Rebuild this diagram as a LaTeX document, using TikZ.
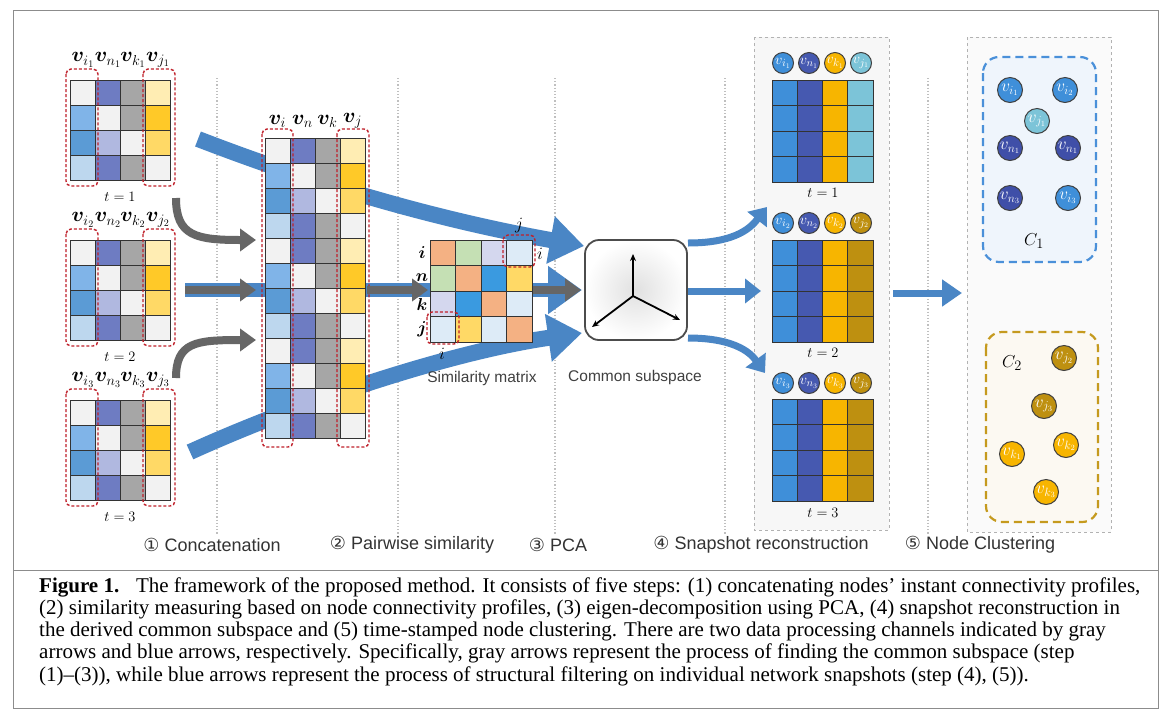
\documentclass[tikz,border=0pt]{standalone}
\usepackage{fontspec}
\usepackage{amsmath}
\usepackage{bm}
\usetikzlibrary{arrows.meta}
\newfontfamily\lsans{Liberation Sans}
\newfontfamily\djv{DejaVu Sans}
\newfontfamily\capfont{Liberation Serif}
% profile cells
\definecolor{cLG}{HTML}{F2F2F2}
\definecolor{cPB}{HTML}{6E7CC2}
\definecolor{cGr}{HTML}{A6A6A6}
\definecolor{cLY}{HTML}{FFEDB3}
\definecolor{cLB}{HTML}{80B4E8}
\definecolor{cGold}{HTML}{FFC928}
\definecolor{cMB}{HTML}{5B9BD5}
\definecolor{cLav}{HTML}{B0B8E0}
\definecolor{cYel}{HTML}{FFD966}
\definecolor{cPale}{HTML}{BDD7EE}
% similarity
\definecolor{cOr}{HTML}{F4B183}
\definecolor{cGn}{HTML}{C5E0B4}
\definecolor{cLv}{HTML}{D4D7EE}
\definecolor{cPl}{HTML}{DDEBF7}
\definecolor{cBl}{HTML}{3A9AE0}
% snapshots
\definecolor{sBlue}{HTML}{3F8FD9}
\definecolor{sInd}{HTML}{4659B0}
\definecolor{sGold}{HTML}{F7B500}
\definecolor{sTeal}{HTML}{7CC4D8}
\definecolor{sDark}{HTML}{BE9010}
\definecolor{nInd}{HTML}{3F4FA8}
% arrows
\definecolor{garr}{HTML}{666666}
\definecolor{barr}{HTML}{4A86C5}
\definecolor{redd}{HTML}{C0202A}
\definecolor{cluB}{HTML}{4A90D9}
\definecolor{cluY}{HTML}{C59A1E}

\tikzset{
 cell/.style={draw=black!80, line width=0.9pt},
 redbox/.style={draw=redd, dash pattern=on 3pt off 2pt, line width=1.4pt, rounded corners=5pt},
 sepline/.style={draw=black!25, dotted, line width=1.2pt},
 grayarr/.style={draw=garr, line width=8pt, -{Triangle[length=16pt,width=22pt]}},
 bluebig/.style={draw=barr, line width=16pt, -{Triangle[length=34pt,width=46pt]}},
 bluesmall/.style={draw=barr, line width=7pt, -{Triangle[length=16pt,width=24pt]}},
 vlab/.style={font=\fontsize{20}{20}\selectfont, inner sep=0pt},
 tlab/.style={font=\fontsize{15}{15}\selectfont, inner sep=0pt},
 ijlab/.style={font=\fontsize{16}{16}\selectfont, inner sep=0pt},
 snode/.style={circle, draw=black!75, line width=1pt, minimum size=21pt, inner sep=0pt, text=white, font=\fontsize{15}{15}\selectfont},
 cnode/.style={snode, minimum size=25pt, font=\fontsize{17}{17}\selectfont},
 steplab/.style={font=\lsans\fontsize{18}{18}\selectfont, text=black!80, inner sep=0pt},
 sublab/.style={font=\lsans\fontsize{15.5}{15.5}\selectfont, text=black!75, inner sep=0pt},
 caplab/.style={font=\capfont\fontsize{21}{22}\selectfont, inner sep=0pt, anchor=base west},
}

\newcommand\profmat[2]{%
 \foreach \rr/\colA/\colB/\colC/\colD in {0/cLG/cPB/cGr/cLY,1/cLB/cLG/cGr/cGold,2/cMB/cLav/cLG/cYel,3/cPale/cPB/cGr/cLG}{%
  \path[cell,fill=\colA] ({#1},{#2+25*\rr}) rectangle ++(25,25);
  \path[cell,fill=\colB] ({#1+25},{#2+25*\rr}) rectangle ++(25,25);
  \path[cell,fill=\colC] ({#1+50},{#2+25*\rr}) rectangle ++(25,25);
  \path[cell,fill=\colD] ({#1+75},{#2+25*\rr}) rectangle ++(25,25);
 }}
\newcommand\snapmat[3]{%
 \foreach \rr in {0,...,3}{%
  \foreach \cc/\cl in {0/sBlue,1/sInd,2/sGold,3/#3}{%
   \path[cell,fill=\cl] ({#1+25.3*\cc},{#2+25.5*\rr}) rectangle ++(25.3,25.5);}}}

\begin{document}
\begin{tikzpicture}[x=1pt,y=-1pt]
\useasboundingbox (0,0) rectangle (1168,716);
\fill[white] (0,0) rectangle (1168,716);
% frame
\draw[black!45, line width=0.8pt] (13,10) rectangle (1158,708);
\draw[black!45, line width=0.8pt] (13,570) -- (1158,570);

% separators
\foreach \sx/\nm in {217/s1,398/s2,555/s3,725/s4,928/s5}{
  \coordinate (\nm a) at (\sx,78); \coordinate (\nm b) at (\sx,535);
  \draw[sepline] (\nm a) -- (\nm b);}

% panels
\path[draw=black!30, dashed, fill=black!3, line width=0.7pt] (754,37) rectangle (889,530);
\path[draw=black!30, dashed, fill=black!2, line width=0.7pt] (967,37) rectangle (1111,532);

% blue bands (behind matrices)
\coordinate (bt0) at (198,139);
\coordinate (bt1) at (584,246);
\coordinate (bm0) at (185,290);
\coordinate (bm1) at (582,290);
\coordinate (bb0) at (190,452);
\coordinate (bb1) at (582,333);
\draw[bluebig] (bt0) .. controls (330,190) and (450,222) .. (bt1);
\draw[bluebig, line width=14pt] (bm0) -- (bm1);
\draw[bluebig] (bb0) .. controls (300,402) and (450,352) .. (bb1);

% left profile matrices
\foreach \yy/\tt in {80/1,240/2,400/3}{
  \profmat{70}{\yy}
  \draw[redbox] (66,\yy-11) rectangle (98,\yy+106);
  \draw[redbox] (143,\yy-11) rectangle (175,\yy+106);
  \node[vlab] (li\tt) at (83,\yy-20) {$\bm{v}_{i_{\tt}}$};
  \node[vlab] (ln\tt) at (108,\yy-20) {$\bm{v}_{n_{\tt}}$};
  \node[vlab] (lk\tt) at (133,\yy-20) {$\bm{v}_{k_{\tt}}$};
  \node[vlab] (lj\tt) at (158,\yy-20) {$\bm{v}_{j_{\tt}}$};
  \node[tlab] (lt\tt) at (120,\yy+117) {$t=\tt$};
}

% concatenated matrix
\profmat{265}{138}
\profmat{265}{238}
\profmat{265}{338}
\draw[redbox] (262,129) rectangle (293,447);
\draw[redbox] (337,129) rectangle (369,447);
\node[vlab] (mi) at (277.5,121) {$\bm{v}_{i}$};
\node[vlab] (mn) at (302.5,121) {$\bm{v}_{n}$};
\node[vlab] (mk) at (327.5,121) {$\bm{v}_{k}$};
\node[vlab] (mj) at (352.5,121) {$\bm{v}_{j}$};

% similarity matrix
\foreach \rr/\colA/\colB/\colC/\colD in {0/cOr/cGn/cLv/cPl,1/cGn/cOr/cBl/cYel,2/cLv/cBl/cOr/cPl,3/cPl/cYel/cPl/cOr}{
  \path[cell,fill=\colA] (430,{240+25.5*\rr}) rectangle ++(25.5,25.5);
  \path[cell,fill=\colB] (455.5,{240+25.5*\rr}) rectangle ++(25.5,25.5);
  \path[cell,fill=\colC] (481,{240+25.5*\rr}) rectangle ++(25.5,25.5);
  \path[cell,fill=\colD] (506.5,{240+25.5*\rr}) rectangle ++(25.5,25.5);
}
\draw[redbox] (503,235) rectangle (535,267);
\draw[redbox] (427,312) rectangle (459,344);
\node[ijlab] (ri) at (422,253) {$\bm{i}$};
\node[ijlab] (rn) at (422,278) {$\bm{n}$};
\node[ijlab] (rk) at (422,304) {$\bm{k}$};
\node[ijlab] (rj) at (422,329) {$\bm{j}$};
\node[ijlab] (tj) at (519,226) {$j$};
\node[ijlab] (ti) at (540,254) {$i$};
\node[ijlab] (bi) at (442,354) {$i$};
\node[sublab] (simlab) at (482,378) {Similarity matrix};

% common subspace
\node[draw=black!70, line width=1.8pt, rounded corners=14pt, minimum width=102pt, minimum height=100pt, inner sep=0pt,
  inner color=black!12, outer color=white] (cs) at (636,290) {};
\coordinate (ax0) at (633,296);
\coordinate (axu) at (633,254);
\coordinate (axl) at (592,327);
\coordinate (axr) at (680,320);
\draw[line width=1.8pt, -{Stealth[length=7pt,width=6pt]}] (ax0) -- (axu);
\draw[line width=1.8pt, -{Stealth[length=7pt,width=6pt]}] (ax0) -- (axl);
\draw[line width=1.8pt, -{Stealth[length=7pt,width=6pt]}] (ax0) -- (axr);
\node[sublab] (cslab) at (635,377) {Common subspace};

% gray arrows
\coordinate (g1a) at (176,198); \coordinate (g1b) at (256,240);
\coordinate (g2a) at (185,290); \coordinate (g2b) at (256,290);
\coordinate (g3a) at (176,378); \coordinate (g3b) at (256,340);
\coordinate (g4a) at (367,290); \coordinate (g4b) at (428,290);
\coordinate (g5a) at (533,290); \coordinate (g5b) at (581,290);
\draw[grayarr] (g1a) .. controls (176,236) and (196,240) .. (g1b);
\draw[grayarr] (g2a) -- (g2b);
\draw[grayarr] (g3a) .. controls (176,342) and (196,340) .. (g3b);
\draw[grayarr] (g4a) -- (g4b);
\draw[grayarr] (g5a) -- (g5b);

% blue arrows to snapshots
\coordinate (r0t) at (688,243); \coordinate (r1t) at (767,207);
\coordinate (r0m) at (688,291); \coordinate (r1m) at (761,291);
\coordinate (r0b) at (688,338); \coordinate (r1b) at (765,373);
\draw[bluesmall] (r0t) .. controls (738,243) and (752,226) .. (r1t);
\draw[bluesmall] (r0m) -- (r1m);
\draw[bluesmall] (r0b) .. controls (738,338) and (752,355) .. (r1b);
\coordinate (c0) at (893,293); \coordinate (c1) at (962,293);
\draw[bluesmall, -{Triangle[length=20pt,width=26pt]}] (c0) -- (c1);

% snapshot matrices
\snapmat{772}{80}{sTeal}
\snapmat{772}{240}{sDark}
\snapmat{772}{399}{sDark}
\foreach \yy/\tt/\cj in {63/1/sTeal,223/2/sDark,383/3/sDark}{
  \node[snode, fill=sBlue] (si\tt) at (783,\yy) {$v_{i_{\tt}}$};
  \node[snode, fill=sInd] (sn\tt) at (809,\yy) {$v_{n_{\tt}}$};
  \node[snode, fill=sGold] (sk\tt) at (835,\yy) {$v_{k_{\tt}}$};
  \node[snode, fill=\cj] (sj\tt) at (861,\yy) {$v_{j_{\tt}}$};
}
\node[tlab] (st1) at (823,193) {$t=1$};
\node[tlab] (st2) at (823,353) {$t=2$};
\node[tlab] (st3) at (823,513) {$t=3$};

% clusters
\path[draw=cluB, line width=2.2pt, dash pattern=on 8pt off 5pt, rounded corners=16pt, fill=cluB!9] (983,57) rectangle (1096,262);
\path[draw=cluY, line width=2.2pt, dash pattern=on 8pt off 5pt, rounded corners=16pt, fill=cluY!6] (986,332) rectangle (1098,522);
\node[cnode, fill=sBlue] (ci1) at (1010,90) {$v_{i_1}$};
\node[cnode, fill=sBlue] (ci2) at (1065,90) {$v_{i_2}$};
\node[cnode, fill=sTeal] (cj1) at (1037,121) {$v_{j_1}$};
\node[cnode, fill=nInd] (cn1) at (1010,148) {$v_{n_1}$};
\node[cnode, fill=nInd] (cn1b) at (1068,148) {$v_{n_1}$};
\node[cnode, fill=nInd] (cn3) at (1010,198) {$v_{n_3}$};
\node[cnode, fill=sBlue] (ci3) at (1068,198) {$v_{i_3}$};
\node[font=\fontsize{19}{19}\selectfont, inner sep=0pt] (C1) at (1034,241) {$C_1$};
\node[font=\fontsize{19}{19}\selectfont, inner sep=0pt] (C2) at (1012,363) {$C_2$};
\node[cnode, fill=sDark] (cj2) at (1064,358) {$v_{j_2}$};
\node[cnode, fill=sDark] (cj3) at (1044,406) {$v_{j_3}$};
\node[cnode, fill=sGold] (ck1) at (1012,454) {$v_{k_1}$};
\node[cnode, fill=sGold] (ck2) at (1066,445) {$v_{k_2}$};
\node[cnode, fill=sGold] (ck3) at (1046,492) {$v_{k_3}$};

% step labels
\node[steplab] (st1l) at (212,545) {{\djv ①} Concatenation};
\node[steplab] (st2l) at (412,545) {{\djv ②} Pairwise similarity};
\node[steplab] (st3l) at (558,545) {{\djv ③} PCA};
\node[steplab] (st4l) at (761,545) {{\djv ④} Snapshot reconstruction};
\node[steplab] (st5l) at (980,545) {{\djv ⑤} Node Clustering};

% caption
\node[caplab] (cap1) at (39,592) {\textbf{Figure 1.}\hspace{0.8em}The framework of the proposed method. It consists of five steps: (1) concatenating nodes’ instant connectivity profiles,};
\node[caplab] (cap2) at (39,614) {(2) similarity measuring based on node connectivity profiles, (3) eigen-decomposition using PCA, (4) snapshot reconstruction in};
\node[caplab] (cap3) at (39,636) {the derived common subspace and (5) time-stamped node clustering. There are two data processing channels indicated by gray};
\node[caplab] (cap4) at (39,658) {arrows and blue arrows, respectively. Specifically, gray arrows represent the process of finding the common subspace (step};
\node[caplab] (cap5) at (39,681) {(1)–(3)), while blue arrows represent the process of structural filtering on individual network snapshots (step (4), (5)).};
\end{tikzpicture}
\end{document}
